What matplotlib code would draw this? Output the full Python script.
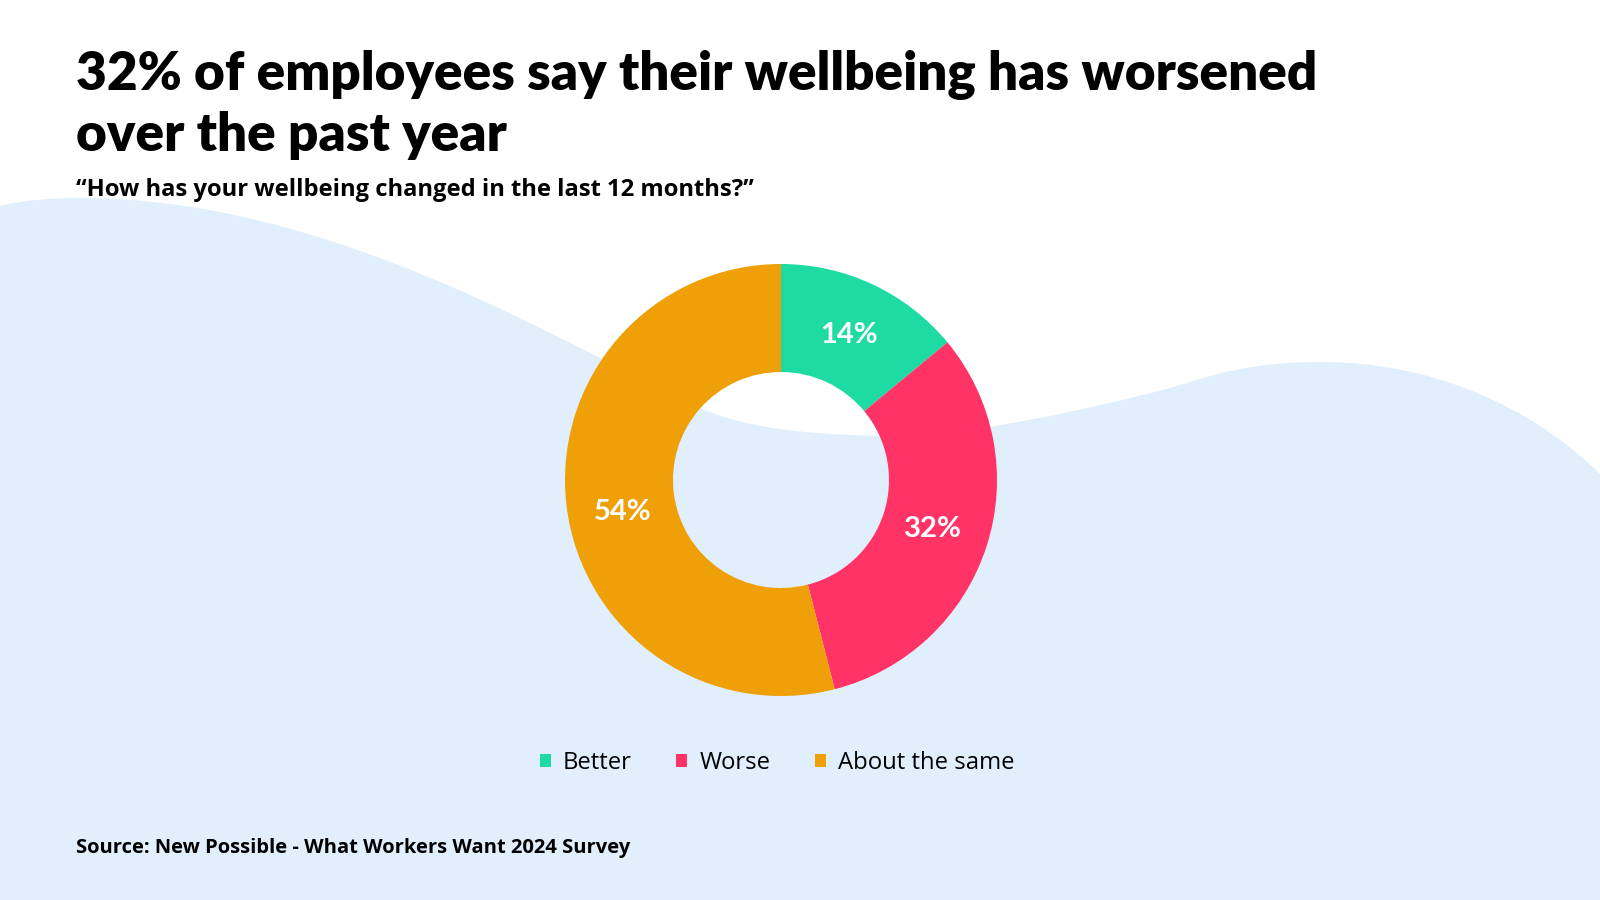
import matplotlib
matplotlib.use("Agg")
import matplotlib.pyplot as plt
from matplotlib.path import Path
from matplotlib.patches import PathPatch, Patch

# data
labels = ["Better", "Worse", "About the same"]
shares = [14, 32, 54]
colors = ["#1DDBA3", "#FF3366", "#EFA008"]

title_lines = ["32% of employees say their wellbeing has worsened", "over the past year"]
subtitle = "\u201cHow has your wellbeing changed in the last 12 months?\u201d"
source = "Source: New Possible - What Workers Want 2024 Survey"

BG_BLUE = "#E1EFFC"
HEAD_FONT = "Lato"
BODY_FONT = "Open Sans"

W, H = 1600, 900
fig = plt.figure(figsize=(16, 9), dpi=100)
fig.patch.set_facecolor("white")

# background canvas in pixel coords, y going down
bg = fig.add_axes([0, 0, 1, 1])
bg.set_xlim(0, W)
bg.set_ylim(H, 0)
bg.axis("off")

# decorative wave
verts = [
    (0, 206),
    (25, 200), (50, 198), (80, 198),
    (330, 198), (560, 342), (700, 408),
    (750, 431), (830, 436), (900, 436),
    (960, 436), (1080, 412), (1174, 387),
    (1230, 368), (1270, 362), (1321, 362),
    (1430, 362), (1530, 405), (1600, 474),
    (1600, 900), (0, 900), (0, 206),
]
codes = ([Path.MOVETO] + [Path.CURVE4] * 18 + [Path.LINETO] * 2 + [Path.CLOSEPOLY])
bg.add_patch(PathPatch(Path(verts, codes), facecolor=BG_BLUE, edgecolor="none"))

# titles
bg.text(76, 90, title_lines[0], fontsize=38.2, fontweight="heavy", family=HEAD_FONT, va="baseline")
bg.text(76, 151, title_lines[1], fontsize=38.2, fontweight="heavy", family=HEAD_FONT, va="baseline")
bg.text(76, 196, subtitle, fontsize=17.1, fontweight="bold", family=BODY_FONT, va="baseline")
bg.text(76, 853, source, fontsize=14.5, fontweight="bold", family=BODY_FONT, va="baseline")

# donut
cx, cy, r = 781, 480, 216
ax = fig.add_axes([(cx - r) / W, (H - cy - r) / H, 2 * r / W, 2 * r / H])
wedges, _, autotexts = ax.pie(
    shares, colors=colors, startangle=90, counterclock=False,
    wedgeprops=dict(width=0.5, edgecolor="none"),
    autopct=lambda p: f"{p:.0f}%", pctdistance=0.74,
    textprops=dict(color="white", fontsize=21, fontweight="bold", family=HEAD_FONT),
)
# the big slice's label sits a little lower in the original
x54, y54 = autotexts[2].get_position()
autotexts[2].set_position((x54, y54 - 0.055))
ax.set_xlim(-1, 1)
ax.set_ylim(-1, 1)
ax.set_aspect("equal")
ax.axis("off")

# legend
handles = [Patch(facecolor=c, edgecolor="none") for c in colors]
leg = bg.legend(handles, labels, loc="center", bbox_to_anchor=(777, 763),
                bbox_transform=bg.transData, ncol=3, frameon=False,
                handlelength=0.48, handleheight=0.48, handletextpad=0.5,
                columnspacing=1.85, prop=dict(family=BODY_FONT, size=17.2))

fig.savefig("out.png", dpi=100, facecolor=fig.get_facecolor())
